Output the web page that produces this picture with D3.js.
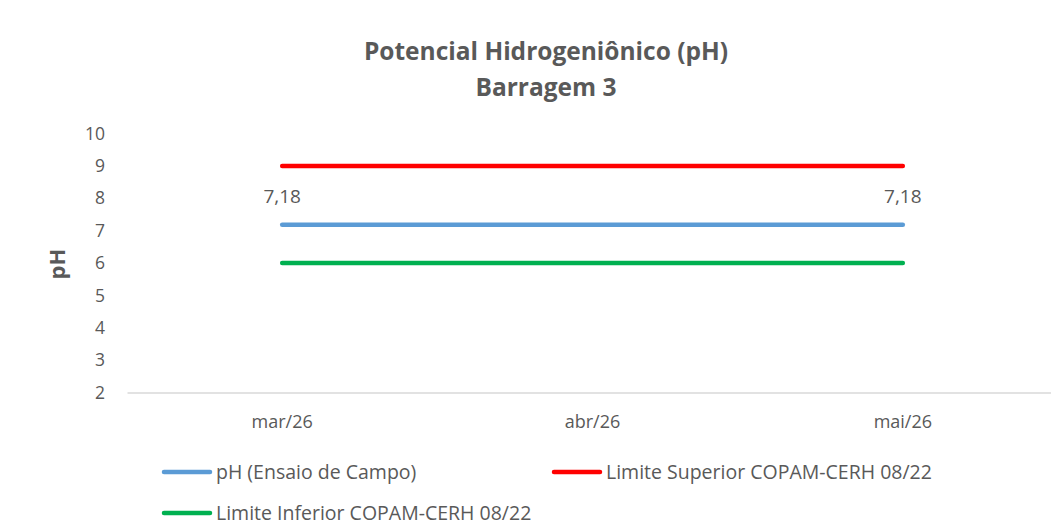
<!DOCTYPE html>
<html>
<head>
<meta charset="utf-8">
<script src="https://cdn.jsdelivr.net/npm/d3@7"></script>
<style>
    body { margin: 0; background: #fff; }
    svg text { font-family: "Open Sans", "DejaVu Sans", sans-serif; fill: #595959; }
</style>
</head>
<body>
<svg id="chart" width="1051" height="527"></svg>
<script>
// data
var months = ["mar/26", "abr/26", "mai/26"];
var phCampo = [7.18, null, 7.18];
var limSuperior = [9, 9, 9];
var limInferior = [6, 6, 6];
var yTicks = [2, 3, 4, 5, 6, 7, 8, 9, 10];

var series = [
    {name: "pH (Ensaio de Campo)", values: phCampo, color: "#5B9BD5", labels: true},
    {name: "Limite Superior COPAM-CERH 08/22", values: limSuperior, color: "#FF0000", labels: false},
    {name: "Limite Inferior COPAM-CERH 08/22", values: limInferior, color: "#00B050", labels: false}
];

var svg = d3.select("#chart");

var x = d3.scaleBand()
    .domain(months)
    .range([127, 1058])
    .padding(0);

var y = d3.scaleLinear()
    .domain([2, 10])
    .range([392.5, 133.6]);

// title
svg.append("text")
    .attr("x", 546).attr("y", 60)
    .attr("text-anchor", "middle")
    .style("font-size", "24.5px").style("font-weight", "bold")
    .text("Potencial Hidrogeniônico (pH)");
svg.append("text")
    .attr("x", 546).attr("y", 96)
    .attr("text-anchor", "middle")
    .style("font-size", "24.5px").style("font-weight", "bold")
    .text("Barragem 3");

// y axis (labels only)
var yAxis = svg.append("g")
    .attr("transform", "translate(127,0)")
    .call(d3.axisLeft(y).tickValues(yTicks).tickSize(0).tickPadding(22));
yAxis.select(".domain").remove();
yAxis.selectAll("text")
    .style("font-size", "17.5px")
    .style("font-family", "\"Open Sans\", sans-serif")
    .attr("fill", "#595959");

// x axis
var xAxis = svg.append("g")
    .attr("transform", "translate(0," + y(2) + ")")
    .call(d3.axisBottom(x).tickSize(0).tickPadding(23));
xAxis.select(".domain").attr("stroke", "#d9d9d9").attr("stroke-width", 1.5);
xAxis.selectAll("text")
    .style("font-size", "18px")
    .style("font-family", "\"Open Sans\", sans-serif")
    .attr("fill", "#595959");

// y title
svg.append("text")
    .attr("transform", "translate(65,264) rotate(-90)")
    .attr("text-anchor", "middle")
    .style("font-size", "22px").style("font-weight", "bold")
    .text("pH");

var cx = function(i){ return x(months[i]) + x.bandwidth() / 2; };

var line = d3.line()
    .x(function(d){ return cx(d.i); })
    .y(function(d){ return y(d.v); });

// draw lines (gaps are connected as in the source)
series.forEach(function(s){
    var pts = s.values.map(function(v, i){ return {i: i, v: v}; })
        .filter(function(d){ return d.v != null; });
    svg.append("path")
        .attr("d", line(pts))
        .attr("fill", "none")
        .attr("stroke", s.color)
        .attr("stroke-width", 4.5)
        .attr("stroke-linecap", "round");

    if (s.labels) {
        pts.forEach(function(d){
            svg.append("text")
                .attr("x", cx(d.i))
                .attr("y", y(d.v) - 22)
                .attr("text-anchor", "middle")
                .style("font-size", "19px")
                .text(d3.format(".2f")(d.v).replace(".", ","));
        });
    }
});

// legend
var legendPos = [[162, 472], [552, 472], [162, 513]];
series.forEach(function(s, i){
    var g = svg.append("g")
        .attr("transform", "translate(" + legendPos[i][0] + "," + legendPos[i][1] + ")");
    g.append("line")
        .attr("x1", 2).attr("x2", 48)
        .attr("y1", 0).attr("y2", 0)
        .attr("stroke", s.color)
        .attr("stroke-width", 4.5)
        .attr("stroke-linecap", "round");
    g.append("text")
        .attr("x", 54).attr("y", 6.5)
        .style("font-size", "19.5px")
        .text(s.name);
});
</script>
</body>
</html>
